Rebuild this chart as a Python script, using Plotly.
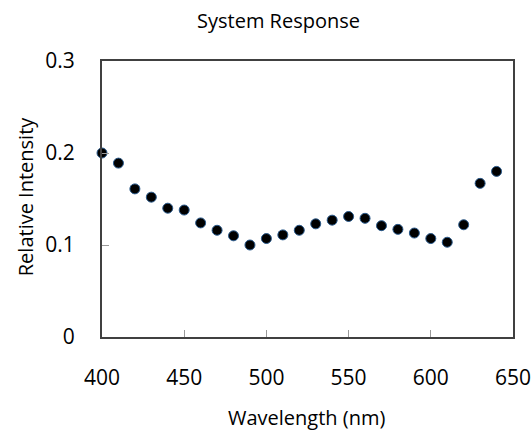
import plotly.graph_objects as go

wavelength = [400, 410, 420, 430, 440, 450, 460, 470, 480, 490, 500, 510, 520,
              530, 540, 550, 560, 570, 580, 590, 600, 610, 620, 630, 640]
intensity = [0.200, 0.189, 0.161, 0.152, 0.140, 0.138, 0.124, 0.116, 0.110, 0.100,
             0.107, 0.111, 0.116, 0.123, 0.127, 0.131, 0.129, 0.121, 0.117, 0.113,
             0.107, 0.103, 0.122, 0.167, 0.180]
x_ticks = [400, 450, 500, 550, 600, 650]
y_ticks = [0, 0.1, 0.2, 0.3]
y_tick_text = ["0", "0.1", "0.2", "0.3"]

FONT = "'Open Sans', sans-serif"

fig = go.Figure()
fig.add_trace(go.Scatter(
    x=wavelength, y=intensity, mode="markers",
    marker=dict(size=10, color="black", line=dict(color="#2a5a8c", width=1)),
    cliponaxis=False, showlegend=False,
))

fig.update_layout(
    width=532, height=430,
    margin=dict(l=102, r=19, t=61, b=93, autoexpand=False),
    paper_bgcolor="white", plot_bgcolor="white",
    font=dict(family=FONT, color="black"),
    annotations=[
        dict(text="System Response", xref="paper", yref="paper", x=0.43, y=1.0,
             xanchor="center", yanchor="middle", yshift=41, showarrow=False,
             font=dict(size=20, color="black")),
        dict(text="Wavelength (nm)", xref="paper", yref="paper", x=0.498, y=0,
             xanchor="center", yanchor="middle", yshift=-80, showarrow=False,
             font=dict(size=20, color="black")),
        dict(text="Relative Intensity", xref="paper", yref="paper", x=0, y=0.51,
             xanchor="center", yanchor="middle", xshift=-77, showarrow=False,
             textangle=-90, font=dict(size=20, color="black")),
    ],
)
fig.update_xaxes(
    range=[400, 650], tickvals=x_ticks, ticks="inside", ticklen=7, tickcolor="#999999",
    showline=True, linecolor="#404040", linewidth=2, mirror=True, showgrid=False,
    zeroline=False, tickfont=dict(size=21), ticklabelstandoff=21, automargin=False,
    ticklabeloverflow="allow",
)
fig.update_yaxes(
    range=[0, 0.3], tickvals=y_ticks, ticktext=y_tick_text, ticks="inside", ticklen=7,
    tickcolor="#999999", showline=True, linecolor="#404040", linewidth=2, mirror=True,
    showgrid=False, zeroline=False, tickfont=dict(size=21), ticklabelstandoff=21,
    automargin=False,
)

fig.write_html("out.html", config={"displayModeBar": False},
               post_script="document.body.style.margin='0';document.body.style.overflow='hidden';")
